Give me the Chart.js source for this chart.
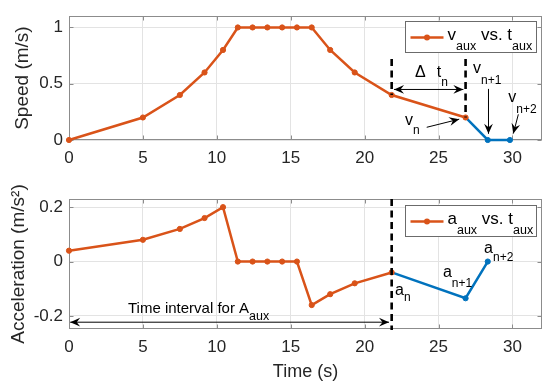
<!DOCTYPE html>
<html><head><meta charset="utf-8">
<script src="https://cdn.jsdelivr.net/npm/chart.js@4.4.1/dist/chart.umd.min.js"></script>
<style>
html,body{margin:0;padding:0;background:#fff;}
#wrap{position:relative;width:550px;height:384px;overflow:hidden;background:#fff;}
canvas{position:absolute;left:0;}
</style></head><body>
<div id="wrap">
<canvas id="cTop" width="550" height="190" style="top:0"></canvas>
<canvas id="cBot" width="550" height="214" style="top:170px"></canvas>
</div>
<script>
// ---------- data ----------
const tAux = [0, 5, 7.5, 9.17, 10.42, 11.42, 12.42, 13.42, 14.42, 15.42, 16.42, 17.67, 19.33, 21.83, 26.83];
const vAux = [0, 0.2, 0.4, 0.6, 0.8, 1, 1, 1, 1, 1, 1, 0.8, 0.6, 0.4, 0.2];
const tNextV = [26.83, 28.33, 29.83];
const vNext = [0.2, 0, 0];

const tAcc = [0, 5, 7.5, 9.17, 10.42, 11.42, 12.42, 13.42, 14.42, 15.42, 16.42, 17.67, 19.33, 21.83];
const aAux = [0.04, 0.08, 0.12, 0.16, 0.2, 0, 0, 0, 0, 0, -0.16, -0.12, -0.08, -0.04];
const tNextA = [21.83, 26.83, 28.33];
const aNext = [-0.04, -0.135, 0];

const xTicks = [0, 5, 10, 15, 20, 25, 30];
const vTicks = [0, 0.5, 1];
const aTicks = [-0.2, 0, 0.2];

// ---------- styles ----------
const ORANGE = '#D95319', BLUE = '#0072BD';
const FONT = "'Liberation Sans', Arial, Helvetica, sans-serif";
const GRID = '#e3e3e3', AXIS = '#8c8c8c', TXT = '#262626';
Chart.defaults.font.family = FONT;

function pts(xs, ys) { return xs.map((x, i) => ({x: x, y: ys[i]})); }

function drawSeq(ctx, x, y, parts, size, subSize) {
  let cx = x;
  ctx.textAlign = 'left'; ctx.textBaseline = 'alphabetic';
  for (const p of parts) {
    const isSub = p[1] !== undefined && p[1] !== 0;
    ctx.font = (isSub ? subSize : size) + 'px ' + FONT;
    ctx.fillText(p[0], cx, y + (isSub ? p[1] : 0));
    cx += ctx.measureText(p[0]).width;
  }
}
function arrowHead(ctx, x1, y1, x2, y2) {
  const L = 10, W = 4.4;
  const ang = Math.atan2(y2 - y1, x2 - x1);
  ctx.save(); ctx.translate(x2, y2); ctx.rotate(ang);
  ctx.beginPath(); ctx.moveTo(0, 0); ctx.lineTo(-L, -W); ctx.lineTo(-L * 0.65, 0); ctx.lineTo(-L, W); ctx.closePath(); ctx.fill();
  ctx.restore();
}
function arrow(ctx, x1, y1, x2, y2, both) {
  ctx.beginPath(); ctx.moveTo(x1, y1); ctx.lineTo(x2, y2); ctx.stroke();
  arrowHead(ctx, x1, y1, x2, y2);
  if (both) arrowHead(ctx, x2, y2, x1, y1);
}

function decor(notes) {
  return {
    id: 'decor',
    beforeDatasetsDraw(chart) {
      const ctx = chart.ctx, a = chart.chartArea, xs = chart.scales.x, ys = chart.scales.y;
      ctx.save();
      ctx.strokeStyle = AXIS; ctx.lineWidth = 1;
      const L = Math.round(a.left) + 0.5, R = Math.round(a.right) - 0.5, T = Math.round(a.top) + 0.5, B = Math.round(a.bottom) - 0.5;
      ctx.strokeRect(L, T, R - L, B - T);
      ctx.beginPath();
      for (const t of xs.ticks) {
        const p = Math.round(xs.getPixelForValue(t.value)) + 0.5;
        ctx.moveTo(p, B); ctx.lineTo(p, B - 4);
        ctx.moveTo(p, T); ctx.lineTo(p, T + 4);
      }
      for (const t of ys.ticks) {
        const p = Math.round(ys.getPixelForValue(t.value)) + 0.5;
        ctx.moveTo(L, p); ctx.lineTo(L + 4, p);
        ctx.moveTo(R, p); ctx.lineTo(R - 4, p);
      }
      ctx.stroke();
      ctx.restore();
    },
    afterDatasetsDraw(chart) {
      const ctx = chart.ctx, a = chart.chartArea, xs = chart.scales.x, ys = chart.scales.y;
      const X = v => xs.getPixelForValue(v), Y = v => ys.getPixelForValue(v);
      ctx.save();
      ctx.strokeStyle = '#000'; ctx.lineWidth = 2.6; ctx.setLineDash([7, 4.5]);
      for (const d of notes.dashes) {
        const y1 = d[1] === 'top' ? a.top : Y(d[1]);
        const y2 = d[2] === 'bottom' ? a.bottom + 1 : Y(d[2]);
        ctx.beginPath(); ctx.moveTo(X(d[0]), y1); ctx.lineTo(X(d[0]), y2); ctx.stroke();
      }
      ctx.setLineDash([]);
      ctx.lineWidth = 1; ctx.fillStyle = '#000';
      for (const r of notes.arrows) arrow(ctx, X(r.from[0]), Y(r.from[1]), X(r.to[0]), Y(r.to[1]), r.both);
      ctx.fillStyle = '#000';
      for (const l of notes.labels) drawSeq(ctx, X(l.at[0]), Y(l.at[1]), l.parts, l.size || 16, l.subSize || 12);
      ctx.restore();
    },
    afterDraw(chart) {
      const ctx = chart.ctx, a = chart.chartArea;
      const W = 131, H = 31;
      const L = Math.round(a.right - 137) + 0.5, T = Math.round(a.top + notes.legendTop) + 0.5;
      ctx.save();
      ctx.fillStyle = '#fff'; ctx.fillRect(L, T, W, H);
      ctx.strokeStyle = '#6b6b6b'; ctx.lineWidth = 1; ctx.strokeRect(L, T, W, H);
      ctx.strokeStyle = ORANGE; ctx.lineWidth = 2.5;
      ctx.beginPath(); ctx.moveTo(L + 5, T + 16); ctx.lineTo(L + 38, T + 16); ctx.stroke();
      ctx.fillStyle = ORANGE; ctx.beginPath(); ctx.arc(L + 21.5, T + 16, 3, 0, Math.PI * 2); ctx.fill();
      ctx.fillStyle = '#000';
      drawSeq(ctx, L + 42, T + 18, notes.legend, 17, 12.5);
      ctx.restore();
    }
  };
}

function xScale(showTitle, height, pad) {
  return {
    type: 'linear', min: 0, max: 32,
    afterBuildTicks: s => { s.ticks = xTicks.map(v => ({value: v})); },
    afterFit: s => { s.height = height; },
    ticks: {font: {size: 17}, color: TXT, padding: pad, maxRotation: 0, autoSkip: false, callback: v => String(v)},
    grid: {color: GRID, drawTicks: false, lineWidth: 1},
    border: {display: false},
    title: {display: showTitle, text: 'Time (s)', font: {size: 18}, color: TXT, padding: {top: 0, bottom: 1}}
  };
}
function yScale(min, max, ticks, title, titlePad) {
  return {
    min: min, max: max,
    afterBuildTicks: s => { s.ticks = ticks.map(v => ({value: v})); },
    afterFit: s => { s.width = 69; },
    ticks: {font: {size: 17}, color: TXT, padding: 6, autoSkip: false, callback: v => String(Math.round(v * 10) / 10)},
    grid: {color: GRID, drawTicks: false, lineWidth: 1},
    border: {display: false},
    title: {display: true, text: title, font: {size: 19}, color: TXT, padding: {top: titlePad, bottom: 0}}
  };
}

function build(id, mainPts, nextPts, padding, xs, ys, notes) {
  return new Chart(document.getElementById(id), {
    type: 'line',
    data: {datasets: [
      {data: mainPts, clip: false, borderColor: ORANGE, backgroundColor: ORANGE, borderWidth: 2.5, pointRadius: 2.6, pointBorderWidth: 1, pointBackgroundColor: ORANGE, pointBorderColor: ORANGE, tension: 0},
      {data: nextPts, clip: false, borderColor: BLUE, backgroundColor: BLUE, borderWidth: 2.5, pointRadius: [0, 2.6, 2.6], pointBorderWidth: 1, pointBackgroundColor: BLUE, pointBorderColor: BLUE, tension: 0}
    ]},
    options: {
      responsive: false, animation: false, devicePixelRatio: 1,
      layout: {padding: padding},
      plugins: {legend: {display: false}, tooltip: {enabled: false}},
      scales: {x: xs, y: ys}
    },
    plugins: [decor(notes)]
  });
}

const topNotes = {
  legendTop: 5,
  legend: [['v'], ['aux', 10], [' vs. t'], ['aux', 10]],
  dashes: [[21.83, 0.72, 0.4], [26.83, 0.72, 0.2]],
  arrows: [
    {from: [21.99, 0.449], to: [26.68, 0.449], both: true},
    {from: [24.2, 0.113], to: [26.4, 0.185]},
    {from: [28.38, 0.454], to: [28.38, 0.055]},
    {from: [30.4, 0.228], to: [30.06, 0.057]}
  ],
  labels: [
    {at: [23.41, 0.563], parts: [['Δ']]},
    {at: [24.88, 0.563], parts: [['t'], ['n', 9]]},
    {at: [22.73, 0.136], parts: [['v'], ['n', 9]]},
    {at: [27.34, 0.597], parts: [['v'], ['n+1', 11]]},
    {at: [29.72, 0.341], parts: [['v'], ['n+2', 11]]}
  ]
};
const botNotes = {
  legendTop: 6,
  legend: [['a'], ['aux', 10], [' vs. t'], ['aux', 10]],
  dashes: [[21.83, 'top', 'bottom']],
  arrows: [
    {from: [0.08, -0.223], to: [21.65, -0.223], both: true}
  ],
  labels: [
    {at: [22.06, -0.123], parts: [['a'], ['n', 6]]},
    {at: [25.3, -0.0565], parts: [['a'], ['n+1', 10]]},
    {at: [28.08, 0.0318], parts: [['a'], ['n+2', 8]]},
    {at: [3.99, -0.189], parts: [['Time interval for A'], ['aux', 7]], size: 15, subSize: 12.5}
  ]
};

build('cTop', pts(tAux, vAux), pts(tNextV, vNext), {left: 0, right: 8, top: 11, bottom: 0},
  xScale(false, 50, 8), yScale(0, 1.1, vTicks, 'Speed (m/s)', 11), topNotes);
build('cBot', pts(tAcc, aAux), pts(tNextA, aNext), {left: 0, right: 8, top: 29, bottom: 0},
  xScale(true, 55, 8), yScale(-0.248, 0.23, aTicks, 'Acceleration (m/s²)', 7), botNotes);
</script>
</body></html>
